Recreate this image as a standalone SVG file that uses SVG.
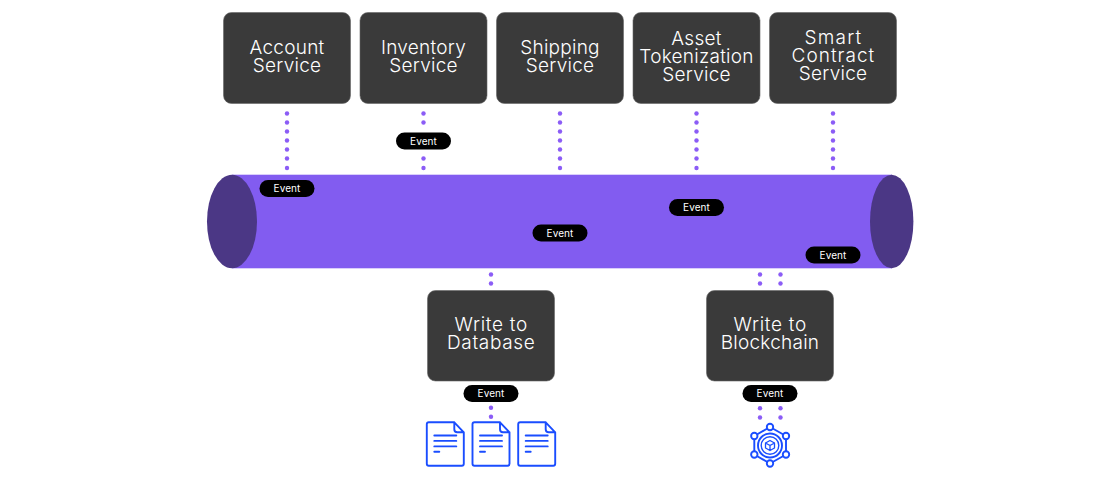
<svg xmlns="http://www.w3.org/2000/svg" width="1120" height="482" viewBox="0 0 1120 482">
<style>
text{font-family:"Inter","Liberation Sans",sans-serif;text-anchor:middle}
.box{fill:#3a3a3a;stroke:#666;stroke-width:.6}
.t{font-size:19px;fill:#fff;font-weight:300;letter-spacing:.25px}
.pill{fill:#000}
.e{font-size:10px;fill:#fff;font-weight:400;letter-spacing:.1px}
.dot{fill:#8b5cf6}
.i{fill:none;stroke:#1a4dff;stroke-width:1.9;stroke-linejoin:round;stroke-linecap:round}
</style>
<defs>
<circle id="d" class="dot" r="2.2"/>
<g id="doc">
<path class="i" d="M-16.500-22H9L18.500-12V19.500Q18.500 21.500 16.500 21.500H-16.500Q-18.500 21.500-18.500 19.500V-20Q-18.500-22-16.500-22ZM9-22V-15Q9-12 12-12H18.500"/>
<path class="i" d="M-11-8.800H11M-11-3.400H11M-11 2.100H11M-11 7.500H-6"/>
</g>
</defs>
<g id="connectors">
<use href="#d" x="287" y="113.500"/><use href="#d" x="287" y="122.500"/><use href="#d" x="287" y="131.500"/><use href="#d" x="287" y="140.500"/><use href="#d" x="287" y="149.500"/><use href="#d" x="287" y="158.500"/><use href="#d" x="287" y="168"/>
<use href="#d" x="423.500" y="113.500"/><use href="#d" x="423.500" y="122.500"/><use href="#d" x="423.500" y="158.500"/><use href="#d" x="423.500" y="168"/>
<use href="#d" x="560" y="113.500"/><use href="#d" x="560" y="122.500"/><use href="#d" x="560" y="131.500"/><use href="#d" x="560" y="140.500"/><use href="#d" x="560" y="149.500"/><use href="#d" x="560" y="158.500"/><use href="#d" x="560" y="168"/>
<use href="#d" x="696.500" y="113.500"/><use href="#d" x="696.500" y="122.500"/><use href="#d" x="696.500" y="131.500"/><use href="#d" x="696.500" y="140.500"/><use href="#d" x="696.500" y="149.500"/><use href="#d" x="696.500" y="158.500"/><use href="#d" x="696.500" y="168"/>
<use href="#d" x="833" y="113.500"/><use href="#d" x="833" y="122.500"/><use href="#d" x="833" y="131.500"/><use href="#d" x="833" y="140.500"/><use href="#d" x="833" y="149.500"/><use href="#d" x="833" y="158.500"/><use href="#d" x="833" y="168"/>
<use href="#d" x="491" y="274.500"/><use href="#d" x="491" y="283.500"/>
<use href="#d" x="760" y="274.500"/><use href="#d" x="760" y="283.500"/><use href="#d" x="780.500" y="274.500"/><use href="#d" x="780.500" y="283.500"/>
<use href="#d" x="491" y="407.700"/><use href="#d" x="491" y="416.800"/>
<use href="#d" x="760" y="408.300"/><use href="#d" x="760" y="417.500"/><use href="#d" x="780.500" y="408.300"/><use href="#d" x="780.500" y="417.500"/>
</g>
<g id="bus">
<rect x="232" y="174.700" width="660" height="93.600" fill="#825cf0"/>
<ellipse cx="232" cy="221.500" rx="25" ry="46.800" fill="#4b3785"/>
<ellipse cx="891.700" cy="221.500" rx="21.700" ry="46.800" fill="#4b3785"/>
</g>
<g id="account-service"><rect class="box" x="223.500" y="12.500" width="127" height="91" rx="8"/><text class="t" x="287" y="54">Account</text><text class="t" x="287" y="72">Service</text></g>
<g id="inventory-service"><rect class="box" x="360" y="12.500" width="127" height="91" rx="8"/><text class="t" x="423.500" y="54">Inventory</text><text class="t" x="423.500" y="72">Service</text></g>
<g id="shipping-service"><rect class="box" x="496.500" y="12.500" width="127" height="91" rx="8"/><text class="t" x="560" y="54">Shipping</text><text class="t" x="560" y="72">Service</text></g>
<g id="asset-tokenization-service"><rect class="box" x="633" y="12.500" width="127" height="91" rx="8"/><text class="t" x="696.500" y="45">Asset</text><text class="t" x="696.500" y="63">Tokenization</text><text class="t" x="696.500" y="81">Service</text></g>
<g id="smart-contract-service"><rect class="box" x="769.500" y="12.500" width="127" height="91" rx="8"/><text class="t" x="833" y="44" textLength="57">Smart</text><text class="t" x="833" y="62" textLength="83">Contract</text><text class="t" x="833" y="80">Service</text></g>
<g id="write-to-database"><rect class="box" x="427.500" y="290.500" width="127" height="90.500" rx="8"/><text class="t" x="491" y="331" textLength="73">Write to</text><text class="t" x="491" y="349" textLength="88">Database</text></g>
<g id="write-to-blockchain"><rect class="box" x="706.500" y="290.500" width="127" height="90.500" rx="8"/><text class="t" x="770" y="331" textLength="73">Write to</text><text class="t" x="770" y="349">Blockchain</text></g>
<g id="event-1"><rect class="pill" x="259.500" y="180" width="55" height="17" rx="8.500"/><text class="e" x="287" y="192.300">Event</text></g>
<g id="event-2"><rect class="pill" x="396" y="132.500" width="55" height="17" rx="8.500"/><text class="e" x="423.500" y="144.800">Event</text></g>
<g id="event-3"><rect class="pill" x="532.500" y="224.500" width="55" height="17" rx="8.500"/><text class="e" x="560" y="236.800">Event</text></g>
<g id="event-4"><rect class="pill" x="669" y="199" width="55" height="17" rx="8.500"/><text class="e" x="696.500" y="211.300">Event</text></g>
<g id="event-5"><rect class="pill" x="805.500" y="246.500" width="55" height="17" rx="8.500"/><text class="e" x="833" y="258.800">Event</text></g>
<g id="event-6"><rect class="pill" x="463.500" y="385" width="55" height="17" rx="8.500"/><text class="e" x="491" y="397">Event</text></g>
<g id="event-7"><rect class="pill" x="742.500" y="385" width="55" height="17" rx="8.500"/><text class="e" x="770" y="397">Event</text></g>
<g id="documents"><use href="#doc" x="445.300" y="444.300"/><use href="#doc" x="491" y="444.300"/><use href="#doc" x="536.700" y="444.300"/></g>
<g id="blockchain" class="i">
<path d="M770 427 786 436V454.500L770 463.500 754.300 454.500V436Z"/>
<circle cx="770" cy="427" r="3.200" fill="#fff"/><circle cx="770" cy="463.500" r="3.200" fill="#fff"/>
<circle cx="754.300" cy="436" r="3.200" fill="#fff"/><circle cx="786" cy="436" r="3.200" fill="#fff"/>
<circle cx="754.300" cy="454.500" r="3.200" fill="#fff"/><circle cx="786" cy="454.500" r="3.200" fill="#fff"/>
<circle cx="770" cy="445.500" r="12"/><circle cx="770" cy="445.500" r="8.800" stroke-width="1.400"/>
<path stroke-width="1.300" d="M770 440.500 774.500 443V448L770 450.500 765.500 448V443ZM765.500 443 770 445.500 774.500 443M770 445.500V450.500"/>
</g>
</svg>
